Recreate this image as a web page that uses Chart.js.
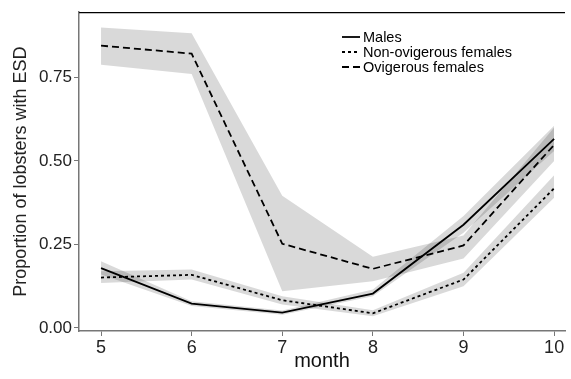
<!DOCTYPE html>
<html>
<head>
<meta charset="utf-8">
<script src="https://cdn.jsdelivr.net/npm/chart.js@4/dist/chart.umd.min.js"></script>
<style>
html,body{margin:0;padding:0;background:#fff;}
#wrap{width:571px;height:379px;position:relative;}
</style>
</head>
<body>
<div id="wrap"><canvas id="c" width="571" height="379"></canvas></div>
<script>
const months = [5, 6, 7, 8, 9, 10];
const seriesNames = ["Males", "Non-ovigerous females", "Ovigerous females"];
const malesMean = [0.179, 0.073, 0.046, 0.103, 0.309, 0.566];
const malesLow  = [0.160, 0.066, 0.040, 0.095, 0.285, 0.530];
const malesHigh = [0.200, 0.080, 0.052, 0.115, 0.335, 0.605];
const nonOvMean = [0.151, 0.159, 0.083, 0.044, 0.145, 0.418];
const nonOvLow  = [0.135, 0.145, 0.070, 0.035, 0.125, 0.390];
const nonOvHigh = [0.170, 0.175, 0.095, 0.053, 0.165, 0.457];
const ovMean = [0.845, 0.821, 0.252, 0.177, 0.247, 0.548];
const ovLow  = [0.788, 0.760, 0.110, 0.140, 0.208, 0.500];
const ovHigh = [0.899, 0.882, 0.396, 0.213, 0.277, 0.600];
const yTickValues = [0, 0.25, 0.5, 0.75];
const yTickLabels = ["0.00", "0.25", "0.50", "0.75"];
const xTickValues = [5, 6, 7, 8, 9, 10];

const pts = arr => arr.map((v, i) => ({x: months[i], y: v}));
const bandColor = 'rgba(0,0,0,0.15)';
const FONT = "'Liberation Sans', Arial, sans-serif";

function band(low, high) {
  return [
    {label: '_low', data: pts(low), borderWidth: 0, pointRadius: 0, fill: false, order: 2, borderColor: 'transparent'},
    {label: '_high', data: pts(high), borderWidth: 0, pointRadius: 0, fill: '-1', backgroundColor: bandColor, order: 2, borderColor: 'transparent'}
  ];
}
const dashes = [[], [3, 3], [7, 4]];
const lineSets = [
  {label: seriesNames[0], data: pts(malesMean), borderDash: dashes[0]},
  {label: seriesNames[1], data: pts(nonOvMean), borderDash: dashes[1]},
  {label: seriesNames[2], data: pts(ovMean), borderDash: dashes[2]}
].map(d => Object.assign(d, {borderColor: '#000', borderWidth: 1.8, pointRadius: 0, fill: false, order: 0, tension: 0}));

const datasets = [
  ...band(ovLow, ovHigh),
  ...band(malesLow, malesHigh),
  ...band(nonOvLow, nonOvHigh),
  ...lineSets
];

const decor = {
  id: 'decor',
  afterDraw(chart) {
    const ctx = chart.ctx, a = chart.chartArea;
    ctx.save();
    ctx.strokeStyle = '#000';
    ctx.lineWidth = 1.2;
    ctx.beginPath();
    ctx.moveTo(a.left, a.top + 0.5);
    ctx.lineTo(a.right, a.top + 0.5);
    ctx.stroke();
    const lx = 342, ly = 37, dy = 15;
    ctx.font = "14.5px " + FONT;
    ctx.textBaseline = 'middle';
    ctx.fillStyle = '#000';
    lineSets.forEach((d, i) => {
      const y = ly + i * dy;
      ctx.setLineDash(d.borderDash);
      ctx.lineWidth = 1.8;
      ctx.strokeStyle = '#000';
      ctx.beginPath();
      ctx.moveTo(lx, y);
      ctx.lineTo(lx + 18, y);
      ctx.stroke();
      ctx.setLineDash([]);
      ctx.fillText(d.label, lx + 21, y + 1);
    });
    ctx.restore();
  }
};

new Chart(document.getElementById('c'), {
  type: 'line',
  data: {datasets},
  options: {
    responsive: false,
    animation: false,
    layout: {padding: {left: 0, right: 6, top: 5, bottom: 0}},
    plugins: {legend: {display: false}, tooltip: {enabled: false}},
    scales: {
      x: {
        type: 'linear', min: 4.757, max: 10.12,
        afterBuildTicks: s => { s.ticks = xTickValues.map(v => ({value: v})); },
        afterFit: s => { s.height = 48; },
        ticks: {color: '#222', font: {size: 18, family: FONT}, padding: 1},
        grid: {drawOnChartArea: false, drawTicks: true, tickLength: 5, color: '#777', lineWidth: 1},
        border: {color: '#777', width: 1.5},
        title: {display: true, text: 'month', color: '#111', font: {size: 20, family: FONT}, padding: {top: 0, bottom: 6}}
      },
      y: {
        type: 'linear', min: -0.009, max: 0.945,
        afterBuildTicks: s => { s.ticks = yTickValues.map(v => ({value: v})); },
        afterFit: s => { s.width = 79; },
        ticks: {color: '#222', font: {size: 17, family: FONT}, padding: 2,
          callback: (v) => { const i = yTickValues.indexOf(v); return i >= 0 ? yTickLabels[i] : ''; }},
        grid: {drawOnChartArea: false, drawTicks: true, tickLength: 5, color: '#777', lineWidth: 1},
        border: {color: '#777', width: 1.5},
        title: {display: true, text: 'Proportion of lobsters with ESD', color: '#222', font: {size: 18, family: FONT}, padding: {top: 10, bottom: 0}}
      }
    }
  },
  plugins: [decor]
});
</script>
</body>
</html>
